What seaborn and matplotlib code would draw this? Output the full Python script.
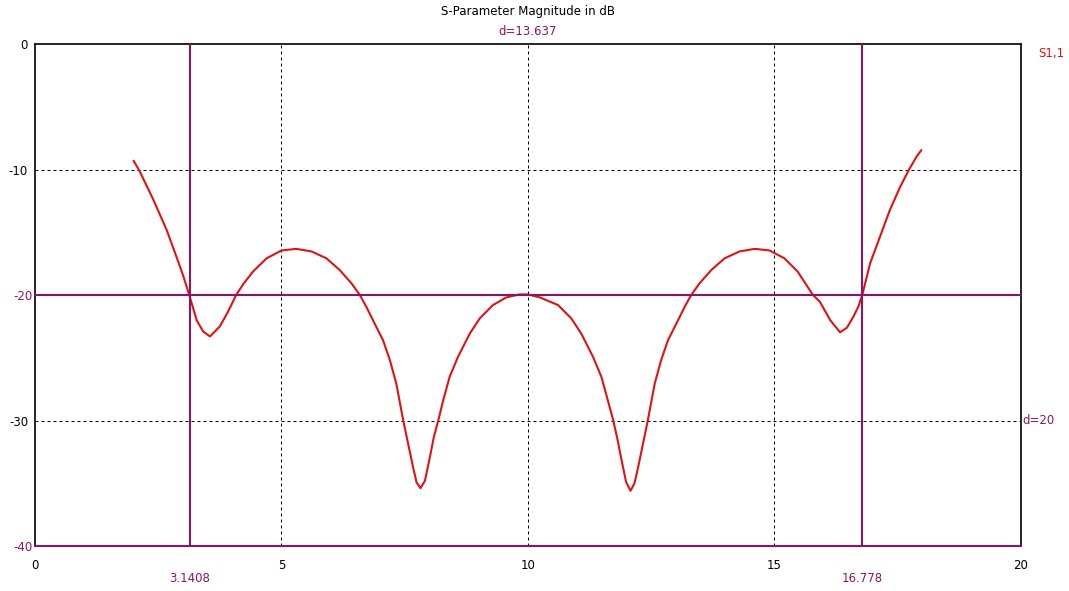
import matplotlib
matplotlib.use('Agg')
import matplotlib.pyplot as plt
import matplotlib.transforms as mtransforms
import pandas as pd
import seaborn as sns

# S1,1 magnitude
freq = [2.00, 2.12, 2.40, 2.67, 2.87, 3.01, 3.13, 3.28, 3.41, 3.55, 3.75, 3.92,
        4.08, 4.23, 4.43, 4.70, 5.00, 5.30, 5.61, 5.91, 6.18, 6.42, 6.59, 6.72,
        6.89, 7.06, 7.20, 7.33, 7.47, 7.57, 7.67, 7.74, 7.82, 7.91, 8.01, 8.09,
        8.18, 8.28, 8.41, 8.58, 8.82, 9.02, 9.29, 9.56, 9.83, 10.00, 10.24, 10.61,
        10.88, 11.08, 11.32, 11.49, 11.62, 11.73, 11.81, 11.89, 11.99, 12.08, 12.16,
        12.23, 12.33, 12.43, 12.57, 12.70, 12.84, 13.01, 13.18, 13.31, 13.48, 13.72,
        13.99, 14.29, 14.60, 14.90, 15.20, 15.47, 15.78, 15.92, 16.13, 16.33, 16.47,
        16.60, 16.70, 16.78, 16.94, 17.14, 17.34, 17.55, 17.73, 17.88, 17.98]
s11_db = [-9.3, -10.1, -12.4, -14.8, -16.95, -18.5, -20.0, -22.0, -22.9, -23.3, -22.5, -21.3,
          -20.0, -19.1, -18.1, -17.07, -16.45, -16.32, -16.53, -17.07, -18.0, -19.07, -20.0, -20.93,
          -22.27, -23.6, -25.2, -27.07, -30.0, -31.87, -33.73, -34.93, -35.39, -34.8, -32.93, -31.33,
          -30.0, -28.4, -26.53, -24.93, -23.07, -21.87, -20.8, -20.19, -19.95, -19.95, -20.19, -20.8,
          -21.87, -23.07, -24.93, -26.53, -28.4, -30.0, -31.4, -33.0, -34.9, -35.6, -35.0,
          -33.8, -31.9, -30.0, -27.07, -25.2, -23.6, -22.27, -20.93, -20.0, -19.07, -18.0,
          -17.07, -16.53, -16.32, -16.45, -17.07, -18.13, -20.0, -20.53, -22.0, -22.97, -22.6,
          -21.73, -20.93, -20.0, -17.47, -15.35, -13.23, -11.37, -10.0, -8.98, -8.45]

# markers
marker_x = [3.1408, 16.778]
marker_y = [-20, -40]
marker_x_labels = ['3.1408', '16.778']

x_ticks = [0, 5, 10, 15, 20]
y_ticks = [0, -10, -20, -30, -40]

df = pd.DataFrame({'freq': freq, 'S11': s11_db})

RED = '#dd1414'
PURPLE = '#8c1464'

sns.set_style('white')
plt.rcParams['font.family'] = ['DejaVu Sans']
plt.rcParams['font.size'] = 8.5

fig = plt.figure(figsize=(10.69, 5.91), dpi=100)
ax = fig.add_axes([0.0327, 0.0761, 0.9224, 0.8494])

# grid (dashed)
for gx in x_ticks[1:-1]:
    ax.axvline(gx, color='black', lw=0.72, ls=(0, (3, 3)), zorder=1)
for gy in [-10, -30]:
    ax.axhline(gy, color='black', lw=0.72, ls=(0, (3, 3)), zorder=1)

sns.lineplot(data=df, x='freq', y='S11', color=RED, lw=1.5, sort=False,
             estimator=None, ax=ax, zorder=3)

for mx in marker_x:
    ax.axvline(mx, color=PURPLE, lw=1.5, zorder=4)
for my in marker_y:
    ax.axhline(my, color=PURPLE, lw=1.5, zorder=4, clip_on=False)

ax.set_xlim(0, 20)
ax.set_ylim(-40, 0)
ax.set_xticks(x_ticks)
ax.set_xticklabels([str(t) for t in x_ticks])
ax.set_yticks(y_ticks)
ax.set_yticklabels(['0', '-10', '', '-30', ''])
ax.tick_params(axis='both', length=0, colors='black', labelsize=8.5)
ax.tick_params(axis='x', pad=9)
ax.tick_params(axis='y', pad=5)
ax.set_xlabel('')
ax.set_ylabel('')

for side in ['top', 'left', 'right']:
    ax.spines[side].set_color('black')
    ax.spines[side].set_linewidth(1.2)
ax.spines['bottom'].set_visible(False)

# y labels at the marker levels are drawn in the marker colour
for my in marker_y:
    ax.annotate(str(my), xy=(0, my), xycoords=('axes fraction', 'data'),
                xytext=(-2, -1), textcoords='offset points', ha='right', va='center',
                color=PURPLE, fontsize=8.5, zorder=6, annotation_clip=False)

trans = mtransforms.blended_transform_factory(ax.transData, ax.transAxes)
for mx, lab in zip(marker_x, marker_x_labels):
    ax.text(mx, -0.064, lab, transform=trans, ha='center', va='center',
            color=PURPLE, fontsize=8.5)

ax.text(0.5, 1.064, 'S-Parameter Magnitude in dB', transform=ax.transAxes,
        ha='center', va='center', color='black', fontsize=8.5)
ax.text(0.5, 1.024, 'd=13.637', transform=ax.transAxes,
        ha='center', va='center', color=PURPLE, fontsize=8.5)
ax.text(1.017, 0.982, 'S1,1', transform=ax.transAxes,
        ha='left', va='center', color=RED, fontsize=8.5)
ax.annotate('d=20', xy=(1.0, -30), xycoords=('axes fraction', 'data'),
            xytext=(1, 0), textcoords='offset points', ha='left', va='center',
            color=PURPLE, fontsize=8.5, annotation_clip=False)

fig.savefig('out.png', dpi=100, facecolor='white')
